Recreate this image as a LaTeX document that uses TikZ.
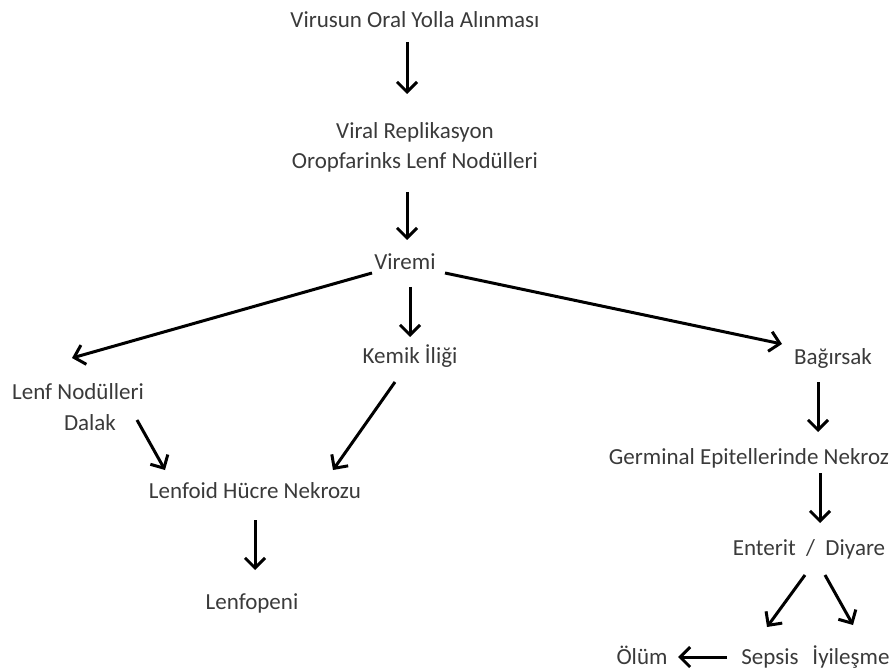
\documentclass[tikz,border=0pt]{standalone}
\usepackage{fontspec}
\setmainfont{Carlito}
\usetikzlibrary{arrows.meta}
\definecolor{txt}{HTML}{3A3A3A}
\tikzset{
  lbl/.style={inner sep=0pt, text=txt, font=\fontsize{23}{27}\selectfont, anchor=center, text height=15pt, text depth=0pt},
  arr/.style={line width=3pt, black, -{Straight Barb[length=10pt,width=20pt,line width=3pt]}}
}
\begin{document}
\begin{tikzpicture}[x=1pt,y=-1pt]
\useasboundingbox (0,0) rectangle (895,671);
\node[lbl] (oral) at (415,20) {Virusun Oral Yolla Alınması};
\node[lbl] (rep1) at (415,131) {Viral Replikasyon};
\node[lbl] (rep2) at (415,161) {Oropfarinks Lenf Nodülleri};
\node[lbl] (viremi) at (405,262) {Viremi};
\node[lbl] (kemik) at (410,356) {Kemik İliği};
\node[lbl] (bag) at (833,357) {Bağırsak};
\node[lbl] (lenf) at (78,392) {Lenf Nodülleri};
\node[lbl] (dalak) at (90,423) {Dalak};
\node[lbl] (lenfoid) at (255,491) {Lenfoid Hücre Nekrozu};
\node[lbl] (lenfopeni) at (252,602) {Lenfopeni};
\node[lbl] (germ) at (749,457) {Germinal Epitellerinde Nekroz};
\node[lbl] (ent) at (809,548) {Enterit \ / \ Diyare};
\node[lbl] (olum) at (642,657) {Ölüm};
\node[lbl] (sepsis) at (770,657) {Sepsis};
\node[lbl] (iyi) at (851,657) {İyileşme};

\draw[arr] ([shift={(-8,22)}]oral.center) -- ([shift={(-8,-37)}]rep1.center);
\draw[arr] ([shift={(-8,31)}]rep2.center) -- ([shift={(2,-22)}]viremi.center);
\draw[arr] ([shift={(-33,11)}]viremi.center) -- ([shift={(-6,-34)}]lenf.center);
\draw[arr] ([shift={(5,25)}]viremi.center) -- ([shift={(0,-19)}]kemik.center);
\draw[arr] ([shift={(40,11)}]viremi.center) -- ([shift={(-51,-13)}]bag.center);
\draw[arr] ([shift={(47,-3)}]dalak.center) -- ([shift={(-90,-21)}]lenfoid.center);
\draw[arr] ([shift={(-15,26)}]kemik.center) -- ([shift={(78,-21)}]lenfoid.center);
\draw[arr] ([shift={(0,29)}]lenfoid.center) -- ([shift={(3,-32)}]lenfopeni.center);
\draw[arr] ([shift={(-15,25)}]bag.center) -- ([shift={(69,-25)}]germ.center);
\draw[arr] ([shift={(71,16)}]germ.center) -- ([shift={(11,-25)}]ent.center);
\draw[arr] ([shift={(-4,27)}]ent.center) -- ([shift={(-3,-30)}]sepsis.center);
\draw[arr] ([shift={(16,27)}]ent.center) -- ([shift={(2,-32)}]iyi.center);
\draw[arr] ([shift={(-43,0)}]sepsis.center) -- ([shift={(36,0)}]olum.center);
\end{tikzpicture}
\end{document}
